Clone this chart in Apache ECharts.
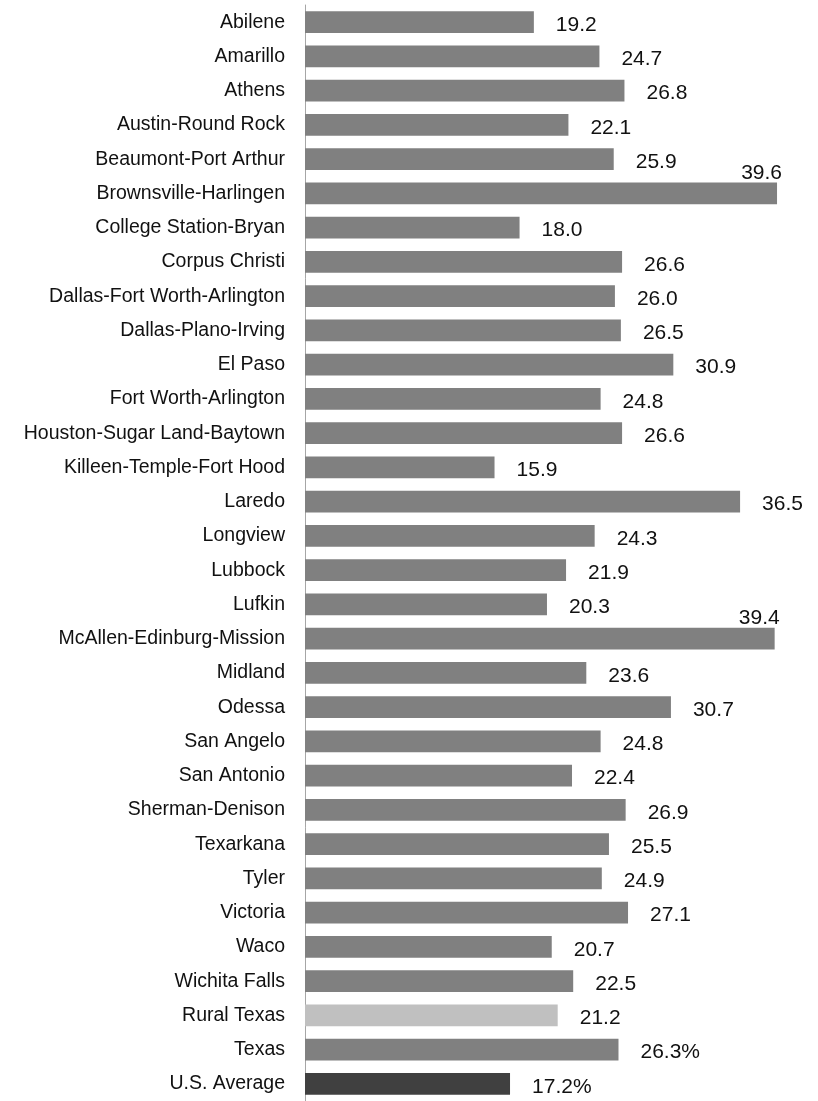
<!DOCTYPE html>
<html>
<head>
<meta charset="utf-8">
<style>
  html, body { margin: 0; padding: 0; background: #fff; }
  #chart { width: 818px; height: 1101px; }
</style>
<script src="https://cdn.jsdelivr.net/npm/echarts@6/dist/echarts.min.js"></script>
</head>
<body>
<div id="chart"></div>
<script>
// Metro areas, listed top to bottom
const categories = [
  'Abilene', 'Amarillo', 'Athens', 'Austin-Round Rock', 'Beaumont-Port Arthur',
  'Brownsville-Harlingen', 'College Station-Bryan', 'Corpus Christi',
  'Dallas-Fort Worth-Arlington', 'Dallas-Plano-Irving', 'El Paso',
  'Fort Worth-Arlington', 'Houston-Sugar Land-Baytown', 'Killeen-Temple-Fort Hood',
  'Laredo', 'Longview', 'Lubbock', 'Lufkin', 'McAllen-Edinburg-Mission', 'Midland',
  'Odessa', 'San Angelo', 'San Antonio', 'Sherman-Denison', 'Texarkana', 'Tyler',
  'Victoria', 'Waco', 'Wichita Falls', 'Rural Texas', 'Texas', 'U.S. Average'
];

// Percentage value per area
const values = [
  19.2, 24.7, 26.8, 22.1, 25.9,
  39.6, 18.0, 26.6,
  26.0, 26.5, 30.9,
  24.8, 26.6, 15.9,
  36.5, 24.3, 21.9, 20.3, 39.4, 23.6,
  30.7, 24.8, 22.4, 26.9, 25.5, 24.9,
  27.1, 20.7, 22.5, 21.2, 26.3, 17.2
];

// Rows whose label carries a percent sign
const percentRows = ['Texas', 'U.S. Average'];

const AXIS_MAX = 40;
const BAR_COLOR = '#808080';
const RURAL_COLOR = '#c0c0c0';
const US_COLOR = '#404040';
const FONT = "'Liberation Sans', Arial, sans-serif";

function colorFor(name) {
  if (name === 'Rural Texas') return RURAL_COLOR;
  if (name === 'U.S. Average') return US_COLOR;
  return BAR_COLOR;
}

const seriesData = categories.map((name, i) => {
  const v = values[i];
  const item = { value: v, itemStyle: { color: colorFor(name) } };
  // Long bars leave no room on the right: put the label above the bar end
  if (v > 38) {
    item.label = {
      position: ['100%', 0],
      align: 'right',
      verticalAlign: 'bottom',
      offset: [5, 1],
      distance: 0
    };
  }
  return item;
});

const chart = echarts.init(document.getElementById('chart'), null, { renderer: 'canvas' });

chart.setOption({
  animation: false,
  backgroundColor: '#ffffff',
  grid: { left: 305, top: 5, width: AXIS_MAX * 11.92, height: 1100, containLabel: false },
  xAxis: {
    type: 'value',
    min: 0,
    max: AXIS_MAX,
    show: false,
    splitLine: { show: false }
  },
  yAxis: {
    type: 'category',
    data: categories,
    inverse: true,
    axisLine: { show: true, lineStyle: { color: '#a6a6a6', width: 1 } },
    axisTick: { show: false },
    axisLabel: {
      color: '#111',
      fontFamily: FONT,
      fontSize: 19.5,
      margin: 20,
      padding: [3, 0, 0, 0]
    }
  },
  series: [{
    type: 'bar',
    data: seriesData,
    barCategoryGap: '36%',
    label: {
      show: true,
      position: 'right',
      distance: 22,
      offset: [0, 3],
      color: '#111',
      fontFamily: FONT,
      fontSize: 21,
      formatter: (p) => p.value.toFixed(1) + (percentRows.includes(p.name) ? '%' : '')
    }
  }]
});
</script>
</body>
</html>
